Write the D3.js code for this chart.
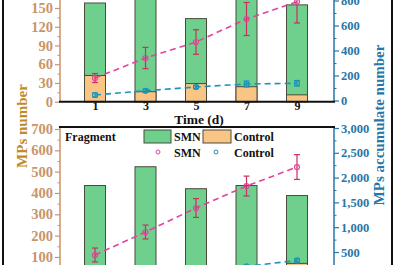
<!DOCTYPE html>
<meta charset="utf-8">
<script src="https://d3js.org/d3.v7.min.js"></script>
<style>
  body { margin: 0; background: #fff; }
  svg { display: block; }
  text { font-family: "Liberation Serif", "Times New Roman", serif; font-weight: bold; }
</style>
<div id="chart"></div>
<script>
// ---- data ----
var days = [1, 3, 5, 7, 9];

// upper panel (per-day counts, left axis; accumulated, right axis)
var smnTop = [158, 180, 133, 176, 155];
var ctrlTop = [42, 16, 29, 24, 11];
var smnAccTop = [180, 340, 468, 652, 790];
var smnAccTopErr = [36, 85, 98, 132, 170];
var ctrlAccTop = [44, 78, 108, 132, 138];
var ctrlAccTopErr = [16, 12, 12, 24, 22];

// lower panel (fragment)
var smnBot = [435, 523, 420, 435, 388];
var ctrlBot = [30, 25, 35, 40, 70];
var smnAccBot = [440, 903, 1387, 1830, 2213];
var smnAccBotErr = [140, 140, 190, 200, 250];
var ctrlAccBot = [60, 110, 160, 210, 330];
var ctrlAccBotErr = [20, 20, 25, 25, 30];

var leftTicksTop = [0, 30, 60, 90, 120, 150];
var rightTicksTop = [0, 200, 400, 600, 800];
var leftTicksBot = [100, 200, 300, 400, 500, 600, 700];
var rightTicksBot = [500, 1000, 1500, 2000, 2500, 3000];

// ---- colours ----
var green = "#6fd08e", orange = "#f8c585", barLine = "#4a4a3a";
var pink = "#e0449c", pinkErr = "#c8305e";
var cyan = "#1c93b8";
var tan = "#c8956a", gold = "#bf8c2c", blue = "#2676a8";

var W = 398, H = 265;
var svg = d3.select("#chart").append("svg").attr("width", W).attr("height", H);

var axL = 60, axR = 334, barW = 21;
var x = d3.scaleLinear().domain([1, 9]).range([95, 297]);

// scales for both panels
var yLT = d3.scaleLinear().domain([0, 150]).range([101.7, 8]);
var yRT = d3.scaleLinear().domain([0, 800]).range([100.5, 0.5]);
var yLB = d3.scaleLinear().domain([0, 700]).range([278.3, 129]);
var yRB = d3.scaleLinear().domain([0, 3000]).range([276.8, 128]);

function bars(vals, yS, fill) {
  svg.append("g").selectAll("rect").data(vals).join("rect")
    .attr("x", function (d, i) { return x(days[i]) - barW / 2; })
    .attr("width", barW)
    .attr("y", function (d) { return yS(d); })
    .attr("height", function (d) { return yS(0) - yS(d); })
    .attr("fill", fill).attr("stroke", barLine).attr("stroke-width", 1);
}

function series(vals, errs, yS, col, errCol) {
  var g = svg.append("g");
  g.append("path").datum(vals)
    .attr("fill", "none").attr("stroke", col).attr("stroke-width", 1.6)
    .attr("stroke-dasharray", "6,4")
    .attr("d", d3.line().x(function (d, i) { return x(days[i]); }).y(function (d) { return yS(d); }));
  var e = g.selectAll("g.err").data(vals).join("g").attr("class", "err")
    .attr("stroke", errCol).attr("stroke-width", 1.2);
  e.append("line")
    .attr("x1", function (d, i) { return x(days[i]); }).attr("x2", function (d, i) { return x(days[i]); })
    .attr("y1", function (d, i) { return yS(d - errs[i]); }).attr("y2", function (d, i) { return yS(d + errs[i]); });
  [-1, 1].forEach(function (s) {
    e.append("line")
      .attr("x1", function (d, i) { return x(days[i]) - 3; }).attr("x2", function (d, i) { return x(days[i]) + 3; })
      .attr("y1", function (d, i) { return yS(d + s * errs[i]); }).attr("y2", function (d, i) { return yS(d + s * errs[i]); });
  });
  g.selectAll("circle").data(vals).join("circle")
    .attr("cx", function (d, i) { return x(days[i]); }).attr("cy", function (d) { return yS(d); })
    .attr("r", 2.5).attr("fill", "none").attr("stroke", col).attr("stroke-width", 1.2);
}

function yAxis(scale, ticks, xpos, side, col, size, y0, y1) {
  var ax = (side === "left" ? d3.axisLeft(scale) : d3.axisRight(scale))
    .tickValues(ticks).tickSize(5).tickSizeOuter(0).tickPadding(2);
  var g = svg.append("g").attr("transform", "translate(" + xpos + ",0)").call(ax);
  g.select(".domain").remove();
  g.selectAll(".tick line").attr("stroke", col).attr("stroke-width", 1.2);
  g.selectAll(".tick text").attr("fill", col).style("font-size", size + "px")
    .style("font-family", '"Liberation Serif", serif').style("font-weight", "bold");
  // minor ticks halfway between the majors
  var minor = [];
  for (var i = 0; i < ticks.length - 1; i++) minor.push((ticks[i] + ticks[i + 1]) / 2);
  var m = (side === "left" ? d3.axisLeft(scale) : d3.axisRight(scale))
    .tickValues(minor).tickSize(2.5).tickSizeOuter(0).tickFormat("");
  var gm = svg.append("g").attr("transform", "translate(" + xpos + ",0)").call(m);
  gm.select(".domain").remove();
  gm.selectAll(".tick line").attr("stroke", col).attr("stroke-width", 1);
  svg.append("line").attr("x1", xpos).attr("x2", xpos).attr("y1", y0).attr("y2", y1)
    .attr("stroke", col).attr("stroke-width", 1.5);
}

// ---- upper panel ----
bars(smnTop, yLT, green);
bars(ctrlTop, yLT, orange);
series(smnAccTop, smnAccTopErr, yRT, pink, pinkErr);
series(ctrlAccTop, ctrlAccTopErr, yRT, cyan, cyan);

yAxis(yLT, leftTicksTop, axL, "left", tan, 14.5, 0, 102);
yAxis(yRT, rightTicksTop, axR, "right", blue, 12.5, 0, 102);

var xa = svg.append("g").attr("transform", "translate(0,101.7)")
  .call(d3.axisBottom(x).tickValues(days).tickSize(0).tickSizeOuter(0).tickPadding(-0.5));
xa.select(".domain").remove();
xa.selectAll(".tick text").attr("fill", "#111").style("font-size", "12px")
  .style("font-family", '"Liberation Serif", serif').style("font-weight", "bold");
svg.append("line").attr("x1", axL - 1).attr("x2", axR + 1).attr("y1", 101.7).attr("y2", 101.7)
  .attr("stroke", "#111").attr("stroke-width", 2);
svg.append("text").attr("x", 199).attr("y", 124).attr("text-anchor", "middle")
  .attr("fill", "#111").style("font-size", "13.5px").text("Time (d)");

// ---- lower panel ----
bars(smnBot, yLB, green);
bars(ctrlBot, yLB, orange);
series(smnAccBot, smnAccBotErr, yRB, pink, pinkErr);
series(ctrlAccBot, ctrlAccBotErr, yRB, cyan, cyan);

yAxis(yLB, leftTicksBot, axL, "left", tan, 14.5, 127, H);
yAxis(yRB, rightTicksBot, axR, "right", blue, 12.5, 127, H);
svg.append("line").attr("x1", axL - 1).attr("x2", axR + 1).attr("y1", 127).attr("y2", 127)
  .attr("stroke", "#111").attr("stroke-width", 2);

// legend
var lg = svg.append("g").style("font-size", "12px");
lg.append("text").attr("x", 65).attr("y", 141).attr("fill", "#111").text("Fragment");
lg.append("rect").attr("x", 144).attr("y", 130).attr("width", 27).attr("height", 13)
  .attr("fill", green).attr("stroke", barLine);
lg.append("text").attr("x", 174).attr("y", 141).attr("fill", "#111").text("SMN");
lg.append("rect").attr("x", 203).attr("y", 130).attr("width", 28).attr("height", 13)
  .attr("fill", orange).attr("stroke", barLine);
lg.append("text").attr("x", 234).attr("y", 141).attr("fill", "#111").text("Control");
lg.append("circle").attr("cx", 158).attr("cy", 152).attr("r", 2).attr("fill", "none").attr("stroke", pink);
lg.append("text").attr("x", 174).attr("y", 157).attr("fill", "#111").text("SMN");
lg.append("circle").attr("cx", 216).attr("cy", 152).attr("r", 2).attr("fill", "none").attr("stroke", cyan);
lg.append("text").attr("x", 234).attr("y", 157).attr("fill", "#111").text("Control");

// axis titles
svg.append("text").attr("transform", "translate(27,126) rotate(-90)").attr("text-anchor", "middle")
  .attr("fill", gold).style("font-size", "15px").text("MPs number");
svg.append("text").attr("transform", "translate(384,125) rotate(-90)").attr("text-anchor", "middle")
  .attr("fill", blue).style("font-size", "15px").text("MPs accumulate number");

// outer figure frame
svg.append("line").attr("x1", 3).attr("x2", 3).attr("y1", 0).attr("y2", H).attr("stroke", "#111").attr("stroke-width", 2);
svg.append("line").attr("x1", 392).attr("x2", 392).attr("y1", 0).attr("y2", H).attr("stroke", "#111").attr("stroke-width", 2);
</script>
